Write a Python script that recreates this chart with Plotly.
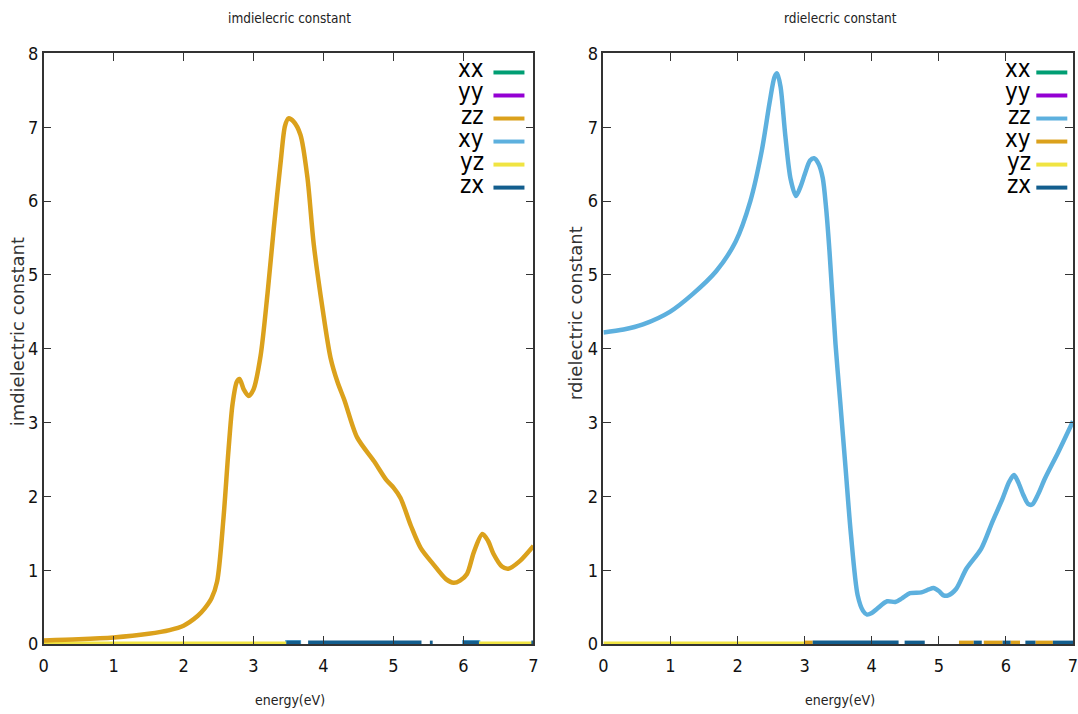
import plotly.graph_objects as go

W, H = 1078, 714

# ---------------- data ----------------
components = ["xx", "yy", "zz", "xy", "yz", "zx"]

# imaginary part (left panel), zz component
im_energy = [0.0, 0.5, 1.0, 1.5, 1.8, 2.0, 2.2, 2.3, 2.4, 2.48, 2.57, 2.64, 2.7, 2.76, 2.8,
             2.86, 2.93, 3.0, 3.1, 3.2, 3.29, 3.39, 3.45, 3.5, 3.57, 3.67, 3.77, 3.86, 3.99,
             4.1, 4.2, 4.3, 4.48, 4.72, 4.9, 5.0, 5.1, 5.25, 5.39, 5.57, 5.75, 5.86, 5.95,
             6.05, 6.15, 6.27, 6.35, 6.43, 6.55, 6.64, 6.8, 7.0]
im_zz = [0.05, 0.065, 0.09, 0.14, 0.19, 0.25, 0.38, 0.48, 0.62, 0.85, 1.7, 2.6, 3.25, 3.55, 3.59,
         3.45, 3.36, 3.45, 3.9, 4.75, 5.64, 6.55, 7.02, 7.12, 7.08, 6.9, 6.32, 5.42, 4.52,
         3.88, 3.55, 3.3, 2.8, 2.48, 2.22, 2.12, 1.98, 1.6, 1.3, 1.08, 0.88, 0.83, 0.86,
         0.95, 1.25, 1.49, 1.4, 1.22, 1.05, 1.02, 1.12, 1.33]

# real part (right panel), zz component
re_energy = [0.0, 0.3, 0.59, 0.99, 1.33, 1.68, 1.97, 2.19, 2.36, 2.48, 2.55, 2.59, 2.64, 2.71,
             2.79, 2.87, 2.94, 3.0, 3.08, 3.14, 3.21, 3.27, 3.32, 3.37, 3.46, 3.53, 3.61, 3.69,
             3.79, 3.87, 3.93, 4.0, 4.08, 4.23, 4.35, 4.45, 4.57, 4.74, 4.85, 4.92, 5.0, 5.07,
             5.14, 5.26, 5.41, 5.63, 5.8, 5.95, 6.05, 6.12, 6.18, 6.26, 6.33, 6.39, 6.48, 6.58,
             6.78, 7.0]
re_zz = [4.22, 4.26, 4.33, 4.5, 4.74, 5.05, 5.45, 6.0, 6.68, 7.35, 7.68, 7.73, 7.55, 6.9,
         6.3, 6.07, 6.2, 6.36, 6.55, 6.58, 6.5, 6.31, 5.9, 5.32, 4.06, 3.28, 2.38, 1.48,
         0.66, 0.45, 0.4, 0.42, 0.48, 0.58, 0.57, 0.62, 0.69, 0.7, 0.74, 0.76, 0.72, 0.66,
         0.66, 0.75, 1.02, 1.29, 1.66, 1.97, 2.2, 2.29, 2.2, 2.02, 1.9, 1.89, 2.03, 2.24,
         2.6, 3.02]

# near-zero components: energies where each is visible on the baseline (None = gap)
im_yz_energy = [0.0, 3.47, None, 6.22, 7.0]
im_yz = [0, 0, None, 0, 0]
im_xy_energy = [3.45, 3.68, None, 5.98, 6.24]
im_xy = [0, 0, None, 0, 0]
im_zx_energy = [3.47, 3.67, None, 3.78, 5.4, None, 5.52, 5.56, None, 6.0, 6.22, None, 6.97, 7.0]
im_zx = [0, 0, None, 0, 0, None, 0, 0, None, 0, 0, None, 0, 0]

re_yz_energy = [0.0, 3.0]
re_yz = [0, 0]
re_xy_energy = [3.0, 3.12, None, 5.3, 5.52, None, 5.67, 5.95, None, 6.07, 6.21, None, 6.44, 6.7]
re_xy = [0, 0, None, 0, 0, None, 0, 0, None, 0, 0, None, 0, 0]
re_zx_energy = [3.12, 4.4, None, 4.49, 4.79, None, 5.52, 5.64, None, 5.95, 6.07, None,
                6.29, 6.44, None, 6.7, 7.0]
re_zx = [0, 0, None, 0, 0, None, 0, 0, None, 0, 0, None, 0, 0, None, 0, 0]

titles = ["imdielecric constant", "rdielecric constant"]
ytitles = ["imdielectric constant", "rdielectric constant"]
xtitle = "energy(eV)"

# ---------------- styles ----------------
GREEN, PURPLE, ORANGE = "#009e73", "#9400d3", "#dba11c"
LBLUE, YELLOW, DBLUE = "#5db0de", "#f0e442", "#135e8e"
left_colors = [GREEN, PURPLE, ORANGE, LBLUE, YELLOW, DBLUE]
right_colors = [GREEN, PURPLE, LBLUE, ORANGE, YELLOW, DBLUE]

NARROW = "Liberation Sans Narrow, DejaVu Sans Condensed, Arial Narrow, sans-serif"


# layout helpers: target pixel position -> paper fraction (with small capture correction)
def px(x):
    return min(1.0, max(0.0, ((x - 4.4) / 0.991) / W))


def py(y):
    return min(1.0, max(0.0, 1 - ((y - 10.6) / 0.9695) / H))


fig = go.Figure()

# left panel
fig.add_trace(go.Scatter(x=im_xy_energy, y=im_xy, mode="lines", xaxis="x", yaxis="y",
                         line=dict(color=LBLUE, width=8), showlegend=False))
fig.add_trace(go.Scatter(x=im_yz_energy, y=im_yz, mode="lines", xaxis="x", yaxis="y",
                         line=dict(color=YELLOW, width=5), showlegend=False))
fig.add_trace(go.Scatter(x=im_zx_energy, y=im_zx, mode="lines", xaxis="x", yaxis="y",
                         line=dict(color=DBLUE, width=7), showlegend=False))
fig.add_trace(go.Scatter(x=im_energy, y=im_zz, mode="lines", xaxis="x", yaxis="y",
                         line=dict(color=ORANGE, width=4.5, shape="spline", smoothing=0.8),
                         showlegend=False))

# right panel
fig.add_trace(go.Scatter(x=re_yz_energy, y=re_yz, mode="lines", xaxis="x2", yaxis="y2",
                         line=dict(color=YELLOW, width=5), showlegend=False))
fig.add_trace(go.Scatter(x=re_xy_energy, y=re_xy, mode="lines", xaxis="x2", yaxis="y2",
                         line=dict(color=ORANGE, width=7), showlegend=False))
fig.add_trace(go.Scatter(x=re_zx_energy, y=re_zx, mode="lines", xaxis="x2", yaxis="y2",
                         line=dict(color=DBLUE, width=7), showlegend=False))
fig.add_trace(go.Scatter(x=re_energy, y=re_zz, mode="lines", xaxis="x2", yaxis="y2",
                         line=dict(color=LBLUE, width=4.5, shape="spline", smoothing=0.8),
                         showlegend=False))

axis_common = dict(showline=True, linecolor="#333333", linewidth=1.5, mirror="ticks",
                   ticks="inside", ticklen=8, tickwidth=1.2, tickcolor="#333333",
                   showgrid=False, zeroline=False, dtick=1,
                   tickfont=dict(family=NARROW, size=18, color="#111111"))

ydom = [py(643), py(53)]
fig.update_layout(
    width=W, height=H, autosize=False,
    margin=dict(l=0, r=0, t=0, b=0),
    paper_bgcolor="white", plot_bgcolor="white",
    showlegend=False,
    xaxis=dict(domain=[px(43), px(533)], range=[0, 7], anchor="y",
               ticklabelstandoff=5, **axis_common),
    yaxis=dict(domain=ydom, range=[0, 8], anchor="x", **axis_common),
    xaxis2=dict(domain=[px(603), px(1077)], range=[0, 7], anchor="y2",
                ticklabelstandoff=5, ticklabeloverflow="allow", **axis_common),
    yaxis2=dict(domain=ydom, range=[0, 8], anchor="x2", **axis_common),
)

annotations = []
shapes = []
panels = [
    dict(cx=289, title=titles[0], ytitle=ytitles[0], yx=17, yy=331,
         text_r=486, l0=493, l1=524, colors=left_colors),
    dict(cx=840, title=titles[1], ytitle=ytitles[1], yx=575, yy=312,
         text_r=1033, l0=1036, l1=1067, colors=right_colors),
]
row_y = [72, 95, 118, 141, 164, 187]
for p in panels:
    annotations.append(dict(x=px(p["cx"]), y=py(18), xref="paper", yref="paper",
                            text=p["title"], showarrow=False, xanchor="center", yanchor="middle",
                            font=dict(family=NARROW, size=13.5, color="#222222")))
    annotations.append(dict(x=px(p["cx"]), y=py(699), xref="paper", yref="paper",
                            text=xtitle, showarrow=False, xanchor="center", yanchor="middle",
                            font=dict(family=NARROW, size=14, color="#222222")))
    annotations.append(dict(x=px(p["yx"]), y=py(p["yy"]), xref="paper", yref="paper",
                            text=p["ytitle"], showarrow=False, textangle=-90,
                            xanchor="center", yanchor="middle",
                            font=dict(family="DejaVu Sans", size=18, color="#333333")))
    for name, col, yy in zip(components, p["colors"], row_y):
        annotations.append(dict(x=px(p["text_r"]), y=py(yy - 3), xref="paper", yref="paper",
                                text=name, showarrow=False, xanchor="right", yanchor="middle",
                                font=dict(family=NARROW, size=24, color="black")))
        shapes.append(dict(type="line", xref="paper", yref="paper",
                           x0=px(p["l0"]), x1=px(p["l1"]), y0=py(yy), y1=py(yy),
                           line=dict(color=col, width=4)))

fig.update_layout(annotations=annotations, shapes=shapes)
fig.write_html("out.html")
